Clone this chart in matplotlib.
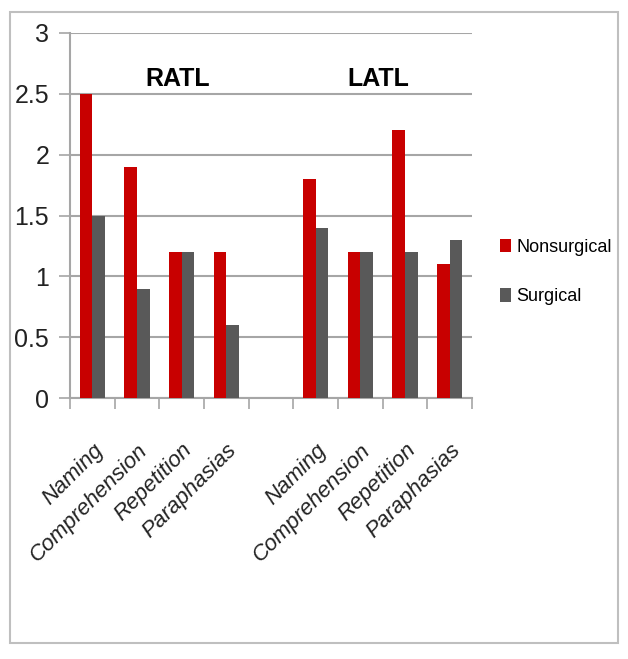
import numpy as np
import matplotlib
matplotlib.use('Agg')
from matplotlib import pyplot as plt
from matplotlib.patches import Rectangle

plt.rcParams['font.family'] = ['Liberation Sans', 'DejaVu Sans']

# data
tasks = ['Naming', 'Comprehension', 'Repetition', 'Paraphasias']
groups = ['RATL', 'LATL']
ratl_nonsurgical = [2.5, 1.9, 1.2, 1.2]
ratl_surgical = [1.5, 0.9, 1.2, 0.6]
latl_nonsurgical = [1.8, 1.2, 2.2, 1.1]
latl_surgical = [1.4, 1.2, 1.2, 1.3]

red = '#c80000'
grey = '#595959'
line_grey = '#a6a6a6'

# one empty slot between the two groups
x_ratl = np.arange(len(tasks))
x_latl = np.arange(len(tasks)) + len(tasks) + 1
x_all = np.concatenate([x_ratl, x_latl])
labels = tasks + tasks
nonsurg = ratl_nonsurgical + latl_nonsurgical
surg = ratl_surgical + latl_surgical

fig = plt.figure(figsize=(6.28, 6.59), dpi=100)
ax = fig.add_axes([70 / 628, 1 - 398 / 659, 402 / 628, 365 / 659])

w = 0.28
ax.bar(x_all - w / 2, nonsurg, w, color=red, label='Nonsurgical', zorder=3)
ax.bar(x_all + w / 2, surg, w, color=grey, label='Surgical', zorder=3)

ax.set_xlim(-0.5, x_latl[-1] + 0.5)
ax.set_ylim(0, 3)
ax.set_yticks(np.arange(0, 3.01, 0.5))
ax.set_yticklabels(['0', '0.5', '1', '1.5', '2', '2.5', '3'], fontsize=18,
                   color='#222222')
ax.yaxis.grid(True, color=line_grey, linewidth=1.5, zorder=0)
ax.tick_params(axis='y', length=8, width=1.2, color=line_grey, pad=7)

ax.set_xticks(x_all)
ax.set_xticklabels(labels, rotation=45, ha='right', rotation_mode='anchor',
                   fontsize=16, style='italic', color='#222222')
ax.set_xticks(np.arange(-0.5, x_latl[-1] + 1, 1), minor=True)
ax.tick_params(axis='x', which='major', length=0, pad=30)
ax.tick_params(axis='x', which='minor', length=8, width=1.2, color=line_grey)

for side in ['top', 'right']:
    ax.spines[side].set_visible(False)
for side in ['left', 'bottom']:
    ax.spines[side].set_color(line_grey)
    ax.spines[side].set_linewidth(1.5)

ax.text(1.9, 2.62, groups[0], fontsize=18, fontweight='bold', ha='center', va='center')
ax.text(6.4, 2.62, groups[1], fontsize=18, fontweight='bold', ha='center', va='center')

fig.legend(loc='center left', bbox_to_anchor=(484 / 628, 1 - 272 / 659),
           frameon=False, fontsize=13, handlelength=0.6, handleheight=0.8,
           handletextpad=0.3, labelspacing=1.8)

# outer chart frame
fig.patches.append(Rectangle((10 / 628, 1 - 643 / 659), 608 / 628, 631 / 659,
                             transform=fig.transFigure, fill=False,
                             edgecolor='#bfbfbf', linewidth=1.5))

fig.savefig('out.png', dpi=100)
